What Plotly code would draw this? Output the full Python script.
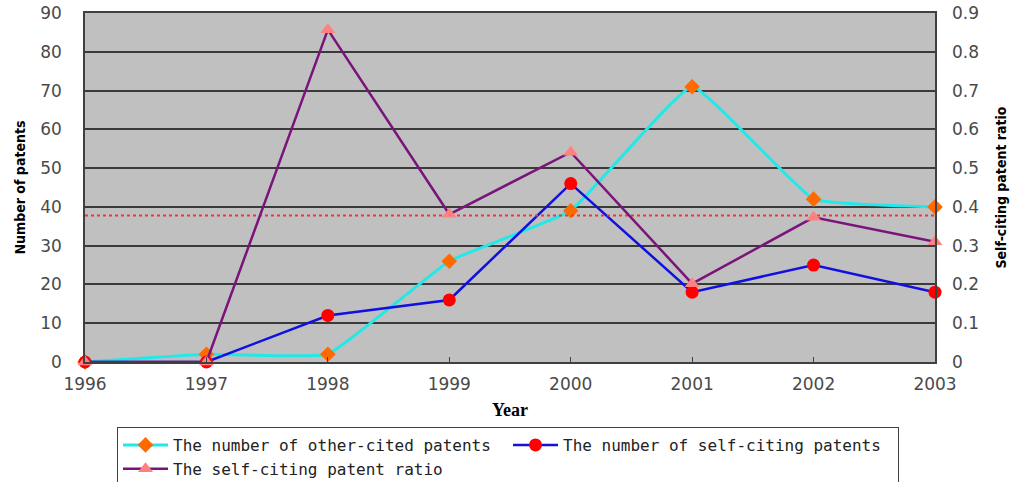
import plotly.graph_objects as go

years = [1996, 1997, 1998, 1999, 2000, 2001, 2002, 2003]
other_cited = [0, 2, 2, 26, 39, 71, 42, 40]
self_citing = [0, 0, 12, 16, 46, 18, 25, 18]
self_ratio = [0, 0, 0.857, 0.381, 0.541, 0.202, 0.373, 0.310]
overall_ratio = 0.378

tick_font = dict(family="DejaVu Sans", size=17, color="#4A4A4A")
title_font = dict(family="Liberation Sans Narrow, DejaVu Sans Condensed, Liberation Sans, Arial, sans-serif",
                  size=14, color="#000000")

fig = go.Figure()

fig.add_trace(go.Scatter(
    x=[years[0], years[-1]], y=[overall_ratio, overall_ratio], yaxis="y2",
    mode="lines", line=dict(color="#FF3030", width=2, dash="dot"),
    showlegend=False, hoverinfo="skip"))

fig.add_trace(go.Scatter(
    x=years, y=other_cited, name="The number of other-cited patents",
    mode="lines+markers", cliponaxis=False,
    line=dict(color="#22E8E8", width=3, shape="spline", smoothing=0.3),
    marker=dict(symbol="diamond", color="#FF6A00", size=12)))

fig.add_trace(go.Scatter(
    x=years, y=self_citing, name="The number of self-citing patents",
    mode="lines+markers", cliponaxis=False,
    line=dict(color="#1010E0", width=2.5),
    marker=dict(symbol="circle", color="#FF0000", size=13)))

fig.add_trace(go.Scatter(
    x=years, y=self_ratio, name="The self-citing patent ratio", yaxis="y2",
    mode="lines+markers", cliponaxis=False,
    line=dict(color="#7A137A", width=2.5),
    marker=dict(symbol="triangle-up", color="#FF8080", size=13)))

fig.update_layout(
    width=1014, height=482,
    margin=dict(l=85, r=79, t=13, b=120),
    paper_bgcolor="white", plot_bgcolor="#C0C0C0",
    xaxis=dict(
        range=[1996, 2003], tickvals=years, ticktext=[str(y) for y in years],
        showgrid=False, zeroline=False, showline=True, linecolor="#404040",
        linewidth=1.5, mirror=True, ticks="inside", ticklen=5, tickcolor="#404040",
        tickfont=tick_font, ticklabelstandoff=6, automargin=False,
        title=dict(text="<b>Year</b>", font=dict(family="Liberation Serif", size=18, color="#000000"),
                   standoff=10)),
    yaxis=dict(
        range=[0, 90], dtick=10, showgrid=True, gridcolor="#3A3A3A", gridwidth=1.5,
        zeroline=False, showline=True, linecolor="#404040", linewidth=1.5, mirror=True,
        tickfont=tick_font, ticks="", ticklabelstandoff=18, automargin=False,
        title=dict(text="<b>Number of patents</b>", font=title_font, standoff=11)),
    yaxis2=dict(
        range=[0, 0.9], dtick=0.1, overlaying="y", side="right", showgrid=False,
        zeroline=False, tickfont=tick_font, ticks="", ticklabelstandoff=16,
        tickformat=".1~f", automargin=False,
        title=dict(text="<b>Self-citing patent ratio</b>", font=title_font, standoff=18)),
    legend=dict(
        orientation="h", xref="container", yref="container",
        x=117/1014, y=1 - 427/482, xanchor="left", yanchor="top",
        bordercolor="#404040", borderwidth=1, bgcolor="white",
        font=dict(family="DejaVu Sans Mono", size=16, color="#222222"),
        entrywidth=330, entrywidthmode="pixels", tracegroupgap=0,
        itemwidth=45),
)

fig.write_html("out.html", config={"displayModeBar": False},
               post_script="document.body.style.margin='0px';")
